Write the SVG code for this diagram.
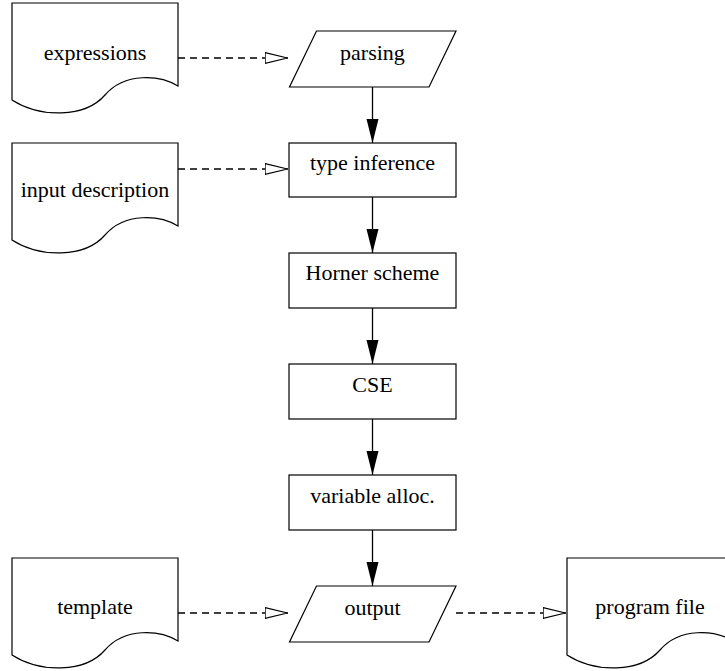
<svg xmlns="http://www.w3.org/2000/svg" width="725" height="671" viewBox="0 0 725 671">
<style>
.shape{fill:#fff;stroke:#000;stroke-width:1.2}
.lbl{font-family:"Liberation Serif","Times New Roman",serif;font-size:22px;fill:#000;text-anchor:middle}
.flow{stroke:#000;stroke-width:1.3;fill:none;marker-end:url(#solid)}
.data{stroke:#000;stroke-width:1.3;fill:none;stroke-dasharray:7 5;marker-end:url(#open)}
</style>
<defs>
<marker id="solid" markerUnits="userSpaceOnUse" markerWidth="26" markerHeight="14" refX="24" refY="6" orient="auto">
<path d="M0,0 L24,6 L0,12 z" fill="#000"/>
</marker>
<marker id="open" markerUnits="userSpaceOnUse" markerWidth="26" markerHeight="14" refX="23.5" refY="6" orient="auto">
<path d="M0.6,0.6 L23,6 L0.6,11.4 z" fill="#fff" stroke="#000" stroke-width="1.2"/>
</marker>
</defs>
<rect width="725" height="671" fill="#fff"/>
<g id="connectors">
<line class="flow" x1="372.5" y1="87" x2="372.5" y2="143"/>
<line class="flow" x1="372.5" y1="197" x2="372.5" y2="253"/>
<line class="flow" x1="372.5" y1="308" x2="372.5" y2="364"/>
<line class="flow" x1="372.5" y1="419" x2="372.5" y2="475"/>
<line class="flow" x1="372.5" y1="530" x2="372.5" y2="586"/>
<line class="data" x1="178" y1="58" x2="288" y2="58"/>
<line class="data" x1="178" y1="169" x2="288" y2="169"/>
<line class="data" x1="178" y1="613" x2="288" y2="613"/>
<line class="data" x1="456" y1="613" x2="566" y2="613"/>
</g>
<g id="expressions">
<path class="shape" d="M12,3 L178,3 L178,86 C160,75 125,72 105,95 C85,118 40,118 12,100 Z"/>
<text class="lbl" x="95" y="60">expressions</text>
</g>
<g id="input-description">
<path class="shape" d="M12,143 L178,143 L178,226 C160,215 125,212 105,235 C85,258 40,258 12,240 Z"/>
<text class="lbl" x="95" y="197">input description</text>
</g>
<g id="template">
<path class="shape" d="M12,558 L178,558 L178,641 C160,630 125,627 105,650 C85,673 40,673 12,655 Z"/>
<text class="lbl" x="95" y="614">template</text>
</g>
<g id="program-file">
<path class="shape" d="M567,558 L733,558 L733,641 C715,630 680,627 660,650 C640,673 595,673 567,655 Z"/>
<text class="lbl" x="650" y="614">program file</text>
</g>
<g id="parsing">
<path class="shape" d="M316.5,31 L456,31 L429,87 L289.5,87 Z"/>
<text class="lbl" x="372.5" y="60">parsing</text>
</g>
<g id="type-inference">
<rect class="shape" x="289" y="143" width="167" height="54"/>
<text class="lbl" x="372.5" y="170">type inference</text>
</g>
<g id="horner-scheme">
<rect class="shape" x="289" y="253" width="167" height="55"/>
<text class="lbl" x="372.5" y="280">Horner scheme</text>
</g>
<g id="cse">
<rect class="shape" x="289" y="364" width="167" height="55"/>
<text class="lbl" x="372.5" y="392">CSE</text>
</g>
<g id="variable-alloc">
<rect class="shape" x="289" y="475" width="167" height="55"/>
<text class="lbl" x="372.5" y="503">variable alloc.</text>
</g>
<g id="output">
<path class="shape" d="M316.5,586 L456,586 L429,642 L289.5,642 Z"/>
<text class="lbl" x="372.5" y="615">output</text>
</g>
</svg>
